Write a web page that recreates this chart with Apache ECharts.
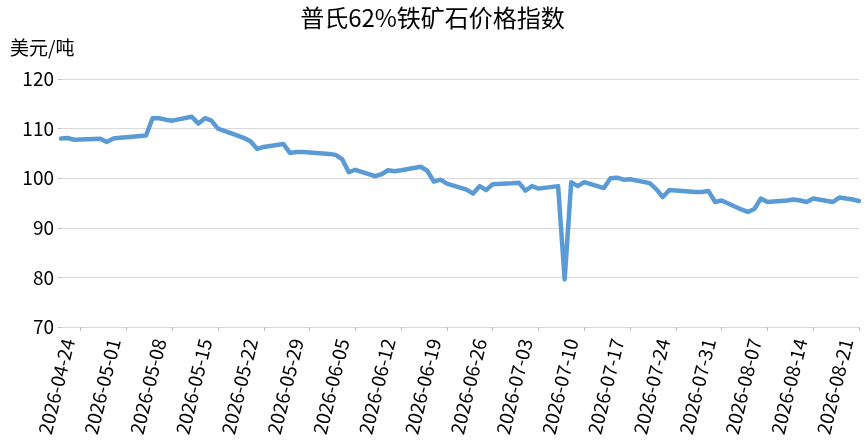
<!DOCTYPE html>
<html>
<head>
<meta charset="utf-8">
<script src="https://cdn.jsdelivr.net/npm/echarts@6/dist/echarts.min.js"></script>
<style>
html,body{margin:0;padding:0;background:#fff;}
#chart{width:865px;height:447px;}
</style>
</head>
<body>
<div id="chart"></div>
<script>
const chartTitle = '普氏62%铁矿石价格指数';
const unitLabel = '美元/吨';
const dates = [
 '2026-04-21','2026-04-22','2026-04-23','2026-04-24',
 '2026-04-27','2026-04-28','2026-04-29','2026-04-30','2026-05-01',
 '2026-05-04','2026-05-05','2026-05-06','2026-05-07','2026-05-08',
 '2026-05-11','2026-05-12','2026-05-13','2026-05-14','2026-05-15',
 '2026-05-18','2026-05-19','2026-05-20','2026-05-21','2026-05-22',
 '2026-05-25','2026-05-26','2026-05-27','2026-05-28','2026-05-29',
 '2026-06-01','2026-06-02','2026-06-03','2026-06-04','2026-06-05',
 '2026-06-08','2026-06-09','2026-06-10','2026-06-11','2026-06-12',
 '2026-06-15','2026-06-16','2026-06-17','2026-06-18','2026-06-19',
 '2026-06-22','2026-06-23','2026-06-24','2026-06-25','2026-06-26',
 '2026-06-29','2026-06-30','2026-07-01','2026-07-02','2026-07-03',
 '2026-07-06','2026-07-07','2026-07-08','2026-07-09','2026-07-10',
 '2026-07-13','2026-07-14','2026-07-15','2026-07-16','2026-07-17',
 '2026-07-20','2026-07-21','2026-07-22','2026-07-23','2026-07-24',
 '2026-07-27','2026-07-28','2026-07-29','2026-07-30','2026-07-31',
 '2026-08-03','2026-08-04','2026-08-05','2026-08-06','2026-08-07',
 '2026-08-10','2026-08-11','2026-08-12','2026-08-13','2026-08-14',
 '2026-08-17','2026-08-18','2026-08-19','2026-08-20','2026-08-21'
];
const prices = [
 108.0,108.1,107.75,107.8,
 107.95,107.3,108.0,108.15,108.25,
 108.6,112.1,112.1,111.8,111.6,
 112.4,111.0,112.1,111.6,110.0,
 108.6,108.1,107.4,105.9,106.3,
 106.9,105.1,105.3,105.3,105.2,
 104.9,104.7,103.8,101.2,101.7,
 100.4,100.8,101.6,101.4,101.6,
 102.3,101.5,99.3,99.7,98.9,
 97.7,96.9,98.4,97.6,98.8,
 99.0,99.1,97.5,98.4,97.9,
 98.4,79.6,99.2,98.4,99.2,
 98.0,100.0,100.1,99.7,99.8,
 99.0,97.8,96.2,97.6,97.5,
 97.2,97.2,97.4,95.2,95.5,
 93.7,93.2,93.8,95.9,95.2,
 95.5,95.7,95.5,95.2,95.9,
 95.2,96.1,95.9,95.7,95.4
];
const tickDates = [
 '2026-04-24','2026-05-01','2026-05-08','2026-05-15','2026-05-22','2026-05-29',
 '2026-06-05','2026-06-12','2026-06-19','2026-06-26','2026-07-03','2026-07-10',
 '2026-07-17','2026-07-24','2026-07-31','2026-08-07','2026-08-14','2026-08-21'
];
const yMin = 70, yMax = 120, yStep = 10;

function ts(s){const p=s.split('-').map(Number);return Date.UTC(p[0],p[1]-1,p[2]);}
function fmt(t){const d=new Date(Math.round(t/86400000)*86400000);const m=d.getUTCMonth()+1,dd=d.getUTCDate();return d.getUTCFullYear()+'-'+(m<10?'0':'')+m+'-'+(dd<10?'0':'')+dd;}
const DAY = 86400000;
const LABEL_SHIFT = 1.9*DAY;

const font = '"Noto Sans CJK SC","Noto Sans",sans-serif';
const chart = echarts.init(document.getElementById('chart'), null, {renderer:'canvas'});
chart.setOption({
  animation:false,
  backgroundColor:'#fff',
  title:[
    {text:chartTitle,left:'center',top:1,textStyle:{fontFamily:font,fontSize:24,fontWeight:'normal',color:'#000'}},
    {text:unitLabel,left:5,top:33,textStyle:{fontFamily:font,fontSize:19,fontWeight:'normal',color:'#000'}}
  ],
  grid:{left:61,right:6,top:79,bottom:120,containLabel:false},
  xAxis:{
    type:'value',
    min:ts(dates[0]),max:ts(dates[dates.length-1]),
    axisLine:{show:true,lineStyle:{color:'#d9d9d9',width:1}},
    axisTick:{show:true,length:4,lineStyle:{color:'#bfbfbf'},customValues:tickDates.map(ts)},
    splitLine:{show:false},
    axisLabel:{
      customValues:tickDates.map(s=>ts(s)-LABEL_SHIFT),
      formatter:v=>fmt(v+LABEL_SHIFT),
      rotate:76,margin:12,fontFamily:font,fontSize:19,color:'#000',hideOverlap:false
    }
  },
  yAxis:{
    type:'value',min:yMin,max:yMax,interval:yStep,
    axisLine:{show:false},
    axisTick:{show:true,length:3,lineStyle:{color:'#bfbfbf'}},
    splitLine:{show:true,lineStyle:{color:'#d9d9d9',width:1}},
    axisLabel:{margin:7,fontFamily:font,fontSize:19,color:'#000'}
  },
  series:[{
    type:'line',
    data:dates.map((d,i)=>[ts(d),prices[i]]),
    showSymbol:false,symbol:'none',
    clip:false,
    lineStyle:{color:'#5B9BD5',width:4.5,join:'round',cap:'round'}
  }]
});
</script>
</body>
</html>
